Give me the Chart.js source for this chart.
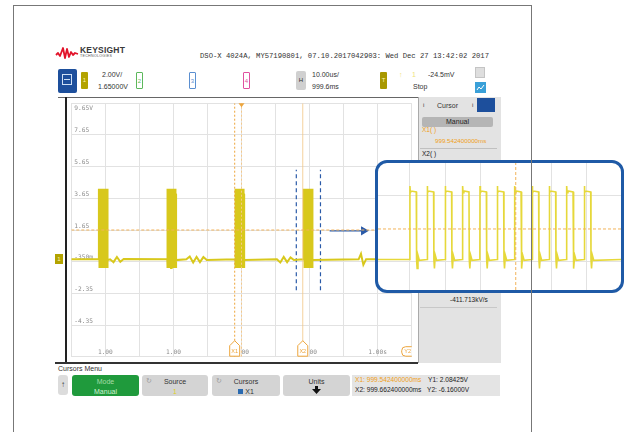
<!DOCTYPE html>
<html>
<head>
<meta charset="utf-8">
<script src="https://cdn.jsdelivr.net/npm/chart.js@4.4.1/dist/chart.umd.min.js"></script>
<style>
body { margin:0; width:627px; height:432px; background:#fff; position:relative; overflow:hidden;
       font-family:"Liberation Sans", Arial, sans-serif; }
.a { position:absolute; }
.t { position:absolute; font-size:7px; line-height:1; color:#333; white-space:nowrap; }
.btn { position:absolute; top:375px; height:21px; background:#d4d4d4; border-radius:3px; }
.btn .l1, .btn .l2 { position:absolute; left:0; right:0; text-align:center; font-size:7px; line-height:1; color:#333; }
.btn .l1 { top:3px; } .btn .l2 { top:13px; }
.chbox { position:absolute; top:72px; width:7px; height:17px; box-sizing:border-box; border-radius:1px;
         font-size:6px; line-height:17px; text-align:center; }
</style>
</head>
<body>

<div class="a" id="frame" style="left:13px;top:5px;width:517px;height:440px;border:1.5px solid #777;z-index:6;pointer-events:none;"></div>

<!-- header -->
<svg class="a" style="left:55px;top:45px" width="24" height="15" viewBox="0 0 24 15">
  <polyline points="1,10 3,8 5,11 8,3 10,13 12,4 14,12 16,7 18,10 20,8 23,9" fill="none" stroke="#e2142b" stroke-width="1.8" stroke-linejoin="round"/>
</svg>
<div class="t" style="left:80px;top:46px;font-size:8.5px;font-weight:bold;color:#3a3a3a;letter-spacing:0.2px">KEYSIGHT</div>
<div class="t" style="left:80px;top:55px;font-size:3.6px;color:#555;letter-spacing:0.3px">TECHNOLOGIES</div>
<div class="t" style="left:200px;top:53px;font-family:'Liberation Mono',monospace;font-size:7.2px;color:#333">DSO-X 4024A, MY57190801, 07.10.2017042903: Wed Dec 27 13:42:02 2017</div>

<!-- info row -->
<div class="a" style="left:58px;top:69px;width:19px;height:24px;background:#1d4f9c;border-radius:2px"></div>
<div class="a" style="left:62px;top:74px;width:10px;height:11px;border:1px solid #cfe0f5;box-sizing:border-box"></div>
<div class="a" style="left:64px;top:79px;width:6px;height:1px;background:#cfe0f5"></div>
<div class="chbox" style="left:81px;background:#b3a300;color:#fff6b0">1</div>
<div class="t" style="left:102px;top:71px">2.00V/</div>
<div class="t" style="left:98px;top:83px">1.65000V</div>
<div class="chbox" style="left:136px;border:1px solid #5cb85c;color:#5cb85c">2</div>
<div class="chbox" style="left:189px;border:1px solid #5b8fd0;color:#5b8fd0">3</div>
<div class="chbox" style="left:243px;border:1px solid #e050a0;color:#e050a0">4</div>
<div class="chbox" style="left:296px;top:71px;width:10px;height:19px;line-height:19px;background:#d0d0d0;border-radius:2px;color:#333">H</div>
<div class="t" style="left:312px;top:71px">10.00us/</div>
<div class="t" style="left:312px;top:83px">999.6ms</div>
<div class="chbox" style="left:380px;background:#a89800;color:#fff6b0">T</div>
<div class="t" style="left:399px;top:71px;color:#efe27a">&#x2191;</div>
<div class="t" style="left:412px;top:71px;color:#efe27a">1</div>
<div class="t" style="left:428px;top:71px">-24.5mV</div>
<div class="t" style="left:413px;top:83px">Stop</div>
<div class="a" style="left:475px;top:67px;width:10px;height:11px;background:#dedede;border:1px solid #c4c4c4;box-sizing:border-box"></div>
<div class="a" style="left:475px;top:82px;width:11px;height:11px;background:#3aa0d8"></div>
<svg class="a" style="left:476px;top:84px" width="9" height="7"><polyline points="1,6 3,3 5,5 8,1" fill="none" stroke="#fff" stroke-width="1"/></svg>

<!-- plot frame lines -->
<div class="a" style="left:58px;top:97px;width:360px;height:1px;background:#666"></div>
<div class="a" style="left:65px;top:97px;width:1.5px;height:266px;background:#222"></div>
<div class="a" style="left:55px;top:362px;width:363px;height:1.5px;background:#333"></div>

<!-- main screen -->
<div class="a" style="left:66px;top:98px;width:351px;height:264px"><canvas id="scope"></canvas></div>

<!-- ch1 ground marker -->
<div class="a" style="left:55px;top:254px;width:8px;height:10px;background:#b3a300;color:#fff6b0;font-size:6px;line-height:10px;text-align:center">1</div>

<!-- right panel -->
<div class="a" style="left:418px;top:97px;width:82px;height:266px;background:#e3e3e3;border-left:1px solid #aaa"></div>
<div class="t" style="left:423px;top:102px;font-size:6px">i</div>
<div class="t" style="left:437px;top:102px">Cursor</div>
<div class="t" style="left:472px;top:102px;font-size:6px">i</div>
<div class="a" style="left:477px;top:98px;width:18px;height:14px;background:#1d4f9c"></div>
<div class="a" style="left:422px;top:117px;width:71px;height:10px;background:#b5b5b5;border-radius:2px;font-size:7px;line-height:10px;text-align:center;color:#222">Manual</div>
<div class="t" style="left:422px;top:127px;color:#f0a020;font-size:6.5px">X1( )</div>
<div class="t" style="left:435px;top:138px;color:#f0a020;font-size:6.2px">999.542400000ms</div>
<div class="a" style="left:420px;top:148px;width:77px;height:1px;background:#c0c0c0"></div>
<div class="t" style="left:422px;top:151px;font-size:6.5px;color:#222">X2( )</div>
<div class="t" style="left:450px;top:297px;font-size:6.5px;color:#222">-411.713kV/s</div>
<div class="a" style="left:420px;top:307px;width:77px;height:1px;background:#c8c8c8"></div>

<!-- zoom inset -->
<div class="a" style="left:375px;top:160px;width:249px;height:133px;box-sizing:border-box;border:3px solid #1f5aa6;border-radius:12px;background:#fff;overflow:hidden;z-index:3">
  <div class="a" style="left:0;top:0;width:243px;height:127px"><canvas id="inset"></canvas></div>
</div>

<!-- softkey menu -->
<div class="t" style="left:58px;top:365px">Cursors Menu</div>
<div class="btn" style="left:58px;width:10px;height:20px;background:#dcdcdc"><div class="l1" style="top:6px;font-size:8px;font-weight:bold">&#x2191;</div></div>
<div class="btn" style="left:72px;width:67px;background:#1f9a3c"><div class="l1" style="color:#a6dca6">Mode</div><div class="l2" style="color:#d2f2d2">Manual</div></div>
<div class="btn" style="left:142px;width:66px"><div class="t" style="left:4px;top:2px;color:#999">&#x21BB;</div><div class="l1">Source</div><div class="l2" style="color:#e0d020">1</div></div>
<div class="btn" style="left:212px;width:68px"><div class="t" style="left:4px;top:2px;color:#999">&#x21BB;</div><div class="l1">Cursors</div><div class="l2"><span style="display:inline-block;width:5px;height:5px;background:#2a6ab0;margin-right:2px"></span>X1</div></div>
<div class="btn" style="left:283px;width:67px"><div class="l1">Units</div>
  <svg class="a" style="left:29px;top:11px" width="9" height="8"><polygon points="3,0 6,0 6,3 9,3 4.5,8 0,3 3,3" fill="#111"/></svg></div>
<div class="a" style="left:352px;top:375px;width:148px;height:21px;background:#e4e4e4"></div>
<div class="t" style="left:355px;top:377px;font-size:6.6px;color:#f0a020">X1: 999.542400000ms</div>
<div class="t" style="left:355px;top:387px;font-size:6.6px;color:#222">X2: 999.662400000ms</div>
<div class="t" style="left:428px;top:377px;font-size:6.6px;color:#222">Y1: 2.08425V</div>
<div class="t" style="left:427px;top:387px;font-size:6.6px;color:#222">Y2: -6.16000V</div>

<script>
// ---- main screen: 10 us/div, time relative to trigger (us), 2 V/div
const xTicks = [-50, -40, -30, -20, -10, 0, 10, 20, 30, 40, 50];
const xLabelTicks = [-40, -20, 0, 20, 40];
const xLabels = ['1.00', '1.00', '1.00', '1.00', '1.00s'];
const yTicks = [-6.35, -4.35, -2.35, -0.35, 1.65, 3.65, 5.65, 7.65, 9.65];
const yLabels = ['', '-4.35', '-2.35', '-350m', '1.65', '3.65', '5.65', '7.65', '9.65V'];

// burst start times (us)
const burstStarts = [-41.9, -21.8, -1.8, 18.3];
// rising edges inside one burst (ns)
const pulseEdges = [0, 245, 500, 746, 992, 1237, 1483, 1732, 1973, 2219, 2469];
// shape of one pulse: time after rising edge (ns) and volts
const pulseT = [0, 2, 8, 20, 92, 96, 104, 116, 135];
const pulseV = [-0.2, 4.25, 3.85, 3.95, 3.9, -0.2, -0.75, 0.05, -0.25];
const lowLevel = -0.2;

// small ripples on the baseline between bursts (us, V)
const bumpT = [-38.6, -37.6, -36.6, -35.6, -34.6, -16.2, -15.2, -14.2, -13.2, -12.2, -11.2, -10.2,
               10.4, 11.4, 12.4, 13.4, 14.4, 15.4, 34.4, 35.1, 35.8, 36.6];
const bumpV = [-0.2, -0.38, -0.05, -0.36, -0.18, -0.2, -0.02, -0.4, -0.05, -0.38, -0.06, -0.25,
               -0.2, -0.4, -0.05, -0.38, -0.08, -0.25, -0.2, 0.15, -0.55, -0.2];

const cursorX = [-2.0, 18.0];          // X1, X2 (us)
const triggerX = 0;
const triggerLevel = 1.65;
const guideX = [16.1, 23.2];           // blue dashed zoom window
const guideY = [-2.15, 5.45];
const arrowX = [25.9, 35.9];
const arrowY = 1.6;

// ---- inset: expanded view of one burst (ns)
const insetX = [-450, 2990];
const insetY = [-2.05, 5.65];
const insetXTicks = [0, 500, 1000, 2000, 2500];
const insetYTicks = [-0.35, 3.65];
const insetMarkX = 1500;

const traceColor = '#d8c81c';
const cursorColor = '#eda53c';

function burstPoints(start, scale) {
  const pts = [];
  pulseEdges.forEach(e => {
    pulseT.forEach((t, k) => pts.push({ x: start + (e + t) * scale, y: pulseV[k] }));
  });
  return pts;
}

let mainTrace = [{ x: -50, y: lowLevel }, { x: 50, y: lowLevel }];
bumpT.forEach((t, i) => mainTrace.push({ x: t, y: bumpV[i] }));
burstStarts.forEach(b => { mainTrace = mainTrace.concat(burstPoints(b, 0.001)); });
mainTrace.sort((a, b) => a.x - b.x);

const insetTrace = [{ x: insetX[0], y: lowLevel }]
  .concat(burstPoints(0, 1))
  .concat([{ x: insetX[1], y: lowLevel }]);

function vline(x, y0, y1) { return [{ x: x, y: y0 }, { x: x, y: y1 }]; }
function hline(y, x0, x1) { return [{ x: x0, y: y }, { x: x1, y: y }]; }

function scaleOpts(min, max, ticks) {
  return {
    type: 'linear', min: min, max: max,
    afterBuildTicks: s => { s.ticks = ticks.map(v => ({ value: v })); },
    ticks: { display: false },
    grid: { color: '#e2e2e2', lineWidth: 1, drawTicks: false },
    border: { display: false }
  };
}

const baseOpts = {
  responsive: true, maintainAspectRatio: false, animation: false,
  layout: { padding: 0 },
  plugins: { legend: { display: false }, tooltip: { enabled: false } },
  elements: { point: { radius: 0 }, line: { tension: 0 } }
};

// labels and cursor markers painted on the scope screen
const scopeLabels = {
  id: 'scopeLabels',
  beforeDatasetsDraw(chart) {
    const { ctx, chartArea, scales } = chart;
    ctx.save();
    ctx.font = '6.2px "DejaVu Sans Mono"';
    ctx.fillStyle = '#8c8c8c';
    yTicks.forEach((v, i) => {
      const y = scales.y.getPixelForValue(v);
      ctx.textBaseline = (y - 8 < chartArea.top) ? 'top' : 'bottom';
      ctx.fillText(yLabels[i], chartArea.left + 3, ctx.textBaseline === 'top' ? y + 2 : y - 1);
    });
    ctx.textAlign = 'center';
    ctx.textBaseline = 'bottom';
    xLabelTicks.forEach((v, i) => {
      ctx.fillText(xLabels[i], scales.x.getPixelForValue(v), chartArea.bottom - 1);
    });
    ctx.restore();
  },
  afterDatasetsDraw(chart) {
    const { ctx, chartArea, scales } = chart;
    const b = chartArea.bottom;
    ctx.save();
    ctx.lineWidth = 1;
    ctx.strokeStyle = cursorColor;
    ctx.font = '5.5px "Liberation Sans"';
    ctx.textAlign = 'center';
    ctx.textBaseline = 'middle';
    cursorX.forEach((v, i) => {
      const x = scales.x.getPixelForValue(v);
      ctx.beginPath();
      ctx.moveTo(x, b - 16); ctx.lineTo(x + 5, b - 11); ctx.lineTo(x + 5, b - 0.5);
      ctx.lineTo(x - 5, b - 0.5); ctx.lineTo(x - 5, b - 11); ctx.closePath();
      ctx.fillStyle = '#fff'; ctx.fill(); ctx.stroke();
      ctx.fillStyle = cursorColor;
      ctx.fillText('X' + (i + 1), x, b - 5);
    });
    // Y2 tab at the right edge
    const rx = chartArea.right;
    ctx.beginPath();
    ctx.moveTo(rx, b - 10); ctx.lineTo(rx - 6, b - 10);
    ctx.arcTo(rx - 10, b - 10, rx - 10, b - 5, 4); ctx.arcTo(rx - 10, b - 0.5, rx - 6, b - 0.5, 4);
    ctx.lineTo(rx, b - 0.5);
    ctx.fillStyle = '#fff'; ctx.fill(); ctx.stroke();
    ctx.fillStyle = cursorColor;
    ctx.fillText('Y2', rx - 4, b - 5);
    // trigger position marker
    const tx = scales.x.getPixelForValue(triggerX);
    ctx.beginPath();
    ctx.moveTo(tx - 3, chartArea.top); ctx.lineTo(tx + 3, chartArea.top); ctx.lineTo(tx, chartArea.top + 4);
    ctx.closePath(); ctx.fillStyle = cursorColor; ctx.fill();
    ctx.restore();
  }
};

new Chart(document.getElementById('scope'), {
  type: 'line',
  data: {
    datasets: [
      { data: hline(triggerLevel, -50, 50), borderColor: '#f2b35a', borderWidth: 1, borderDash: [3, 2] },
      { data: vline(cursorX[0], -6.35, 9.65), borderColor: cursorColor, borderWidth: 1, borderDash: [2, 2] },
      { data: vline(triggerX, -6.35, 9.65), borderColor: '#f5c98a', borderWidth: 1, borderDash: [2, 2] },
      { data: vline(cursorX[1], -6.35, 9.65), borderColor: '#f3c583', borderWidth: 0.8 },
      { data: mainTrace, borderColor: traceColor, borderWidth: 2 },
      { data: vline(guideX[0], guideY[0], guideY[1]), borderColor: '#2a5aa8', borderWidth: 1.2, borderDash: [4, 3] },
      { data: vline(guideX[1], guideY[0], guideY[1]), borderColor: '#2a5aa8', borderWidth: 1.2, borderDash: [4, 3] },
      { data: hline(arrowY, arrowX[0], arrowX[1]), borderColor: '#2a5aa8', borderWidth: 1.3,
        pointRadius: [0, 4], pointStyle: 'triangle', rotation: 90,
        pointBackgroundColor: '#2a5aa8', pointBorderColor: '#2a5aa8' }
    ]
  },
  options: Object.assign({}, baseOpts, {
    scales: { x: scaleOpts(-50, 50, xTicks), y: scaleOpts(-6.35, 9.65, yTicks) }
  }),
  plugins: [scopeLabels]
});

new Chart(document.getElementById('inset'), {
  type: 'line',
  data: {
    datasets: [
      { data: hline(triggerLevel, insetX[0], insetX[1]), borderColor: '#f2b35a', borderWidth: 1, borderDash: [3, 2] },
      { data: vline(insetMarkX, insetY[0], insetY[1]), borderColor: '#f2b35a', borderWidth: 1, borderDash: [3, 2] },
      { data: insetTrace, borderColor: '#e6d83a', borderWidth: 1.6 }
    ]
  },
  options: Object.assign({}, baseOpts, {
    scales: { x: scaleOpts(insetX[0], insetX[1], insetXTicks), y: scaleOpts(insetY[0], insetY[1], insetYTicks) }
  })
});
</script>
</body>
</html>
